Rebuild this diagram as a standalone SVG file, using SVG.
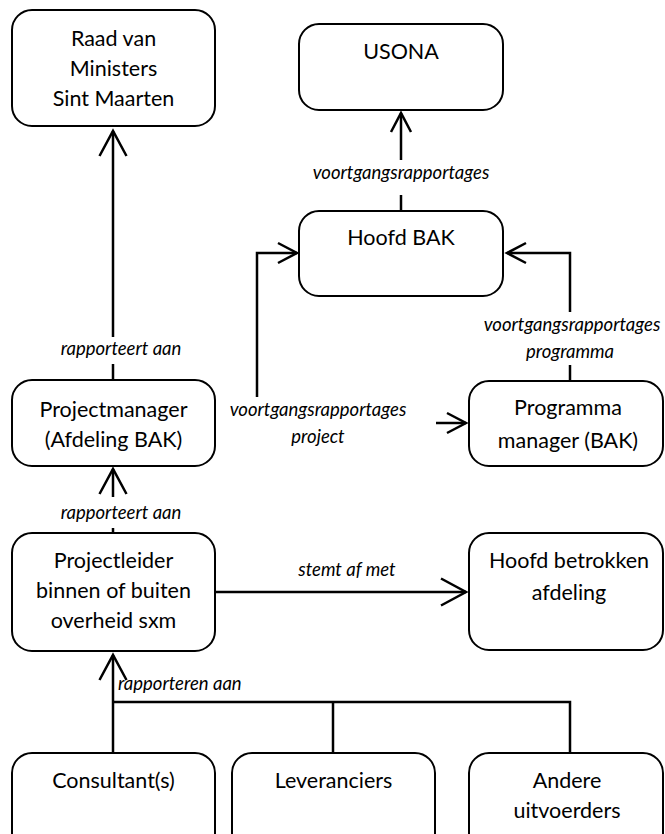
<svg xmlns="http://www.w3.org/2000/svg" width="665" height="834" viewBox="0 0 665 834">
<style>
.box{fill:#fff;stroke:#000;stroke-width:2}
.t{font-family:Lato,"Liberation Sans",sans-serif;font-size:21.5px;text-anchor:middle;fill:#000}
.l{font-family:Lato,"Liberation Sans",sans-serif;font-size:18.5px;font-style:italic;text-anchor:middle;fill:#000}
.c{fill:none;stroke:#000;stroke-width:2.5}
.s{marker-end:url(#arrS)}
.b{marker-end:url(#arrL)}
</style>
<defs>
<marker id="arrS" markerUnits="userSpaceOnUse" markerWidth="30" markerHeight="30" refX="21" refY="12" orient="auto" overflow="visible">
<path d="M2,2 L21,12 L2,22" fill="none" stroke="#000" stroke-width="2.5"/>
</marker>
<marker id="arrL" markerUnits="userSpaceOnUse" markerWidth="36" markerHeight="36" refX="27" refY="15" orient="auto" overflow="visible">
<path d="M2,1.5 L27,15 L2,28.5" fill="none" stroke="#000" stroke-width="2.5"/>
</marker>
</defs>
<rect width="665" height="834" fill="#fff"/>
<g id="connectors">
<path class="c" d="M113,380 V364"/>
<path class="c b" d="M113,337 V131"/>
<path class="c" d="M401,211 V195"/>
<path class="c s" d="M401,160 V113"/>
<path class="c s" d="M257,397 V253 H297"/>
<path class="c s" d="M436,423 H466"/>
<path class="c" d="M570,381 V365"/>
<path class="c s" d="M570,312 V253 H507"/>
<path class="c b" d="M113,497 V469"/>
<path class="c" d="M113,533 V528"/>
<path class="c b" d="M215,592 H466"/>
<path class="c b" d="M113,753 V655"/>
<path class="c" d="M113,702 H570 V753"/>
<path class="c" d="M333,702 V753"/>
<text class="l" x="401" y="179">voortgangsrapportages</text>
<text class="l" x="121" y="355">rapporteert aan</text>
<text class="l" x="318" y="416">voortgangsrapportages</text>
<text class="l" x="318" y="443">project</text>
<text class="l" x="572" y="331">voortgangsrapportages</text>
<text class="l" x="570" y="358">programma</text>
<text class="l" x="121" y="519">rapporteert aan</text>
<text class="l" x="347" y="576">stemt af met</text>
<text class="l" x="118" y="690" style="text-anchor:start">rapporteren aan</text>
</g>
<g id="raad">
<rect class="box" x="12" y="10" width="203" height="116" rx="20"/>
<text class="t" x="113.5" y="45.5">Raad van</text>
<text class="t" x="113.5" y="75.5">Ministers</text>
<text class="t" x="113.5" y="105.5">Sint Maarten</text>
</g>
<g id="usona">
<rect class="box" x="299" y="24" width="204" height="86" rx="20"/>
<text class="t" x="401" y="58.5">USONA</text>
</g>
<g id="hoofd-bak">
<rect class="box" x="299" y="211" width="204" height="85" rx="20"/>
<text class="t" x="401" y="244.5">Hoofd BAK</text>
</g>
<g id="projectmanager">
<rect class="box" x="12" y="380" width="203" height="86" rx="20"/>
<text class="t" x="113.5" y="416.5">Projectmanager</text>
<text class="t" x="113.5" y="446.5">(Afdeling BAK)</text>
</g>
<g id="programma-manager">
<rect class="box" x="469" y="381" width="194" height="85" rx="20"/>
<text class="t" x="568" y="414.5">Programma</text>
<text class="t" x="568" y="447.5">manager (BAK)</text>
</g>
<g id="projectleider">
<rect class="box" x="12" y="533" width="203" height="118" rx="20"/>
<text class="t" x="113.5" y="567.5">Projectleider</text>
<text class="t" x="113.5" y="597.5">binnen of buiten</text>
<text class="t" x="113.5" y="627.5">overheid sxm</text>
</g>
<g id="hoofd-betrokken">
<rect class="box" x="469" y="533" width="194" height="117" rx="20"/>
<text class="t" x="569" y="567.5">Hoofd betrokken</text>
<text class="t" x="569" y="599.5">afdeling</text>
</g>
<g id="consultants">
<rect class="box" x="12" y="753" width="203" height="100" rx="20"/>
<text class="t" x="113.5" y="787.5">Consultant(s)</text>
</g>
<g id="leveranciers">
<rect class="box" x="232" y="753" width="203" height="100" rx="20"/>
<text class="t" x="333.5" y="787.5">Leveranciers</text>
</g>
<g id="andere">
<rect class="box" x="469" y="753" width="194" height="100" rx="20"/>
<text class="t" x="567" y="787.5">Andere</text>
<text class="t" x="567" y="817.5">uitvoerders</text>
</g>
</svg>
